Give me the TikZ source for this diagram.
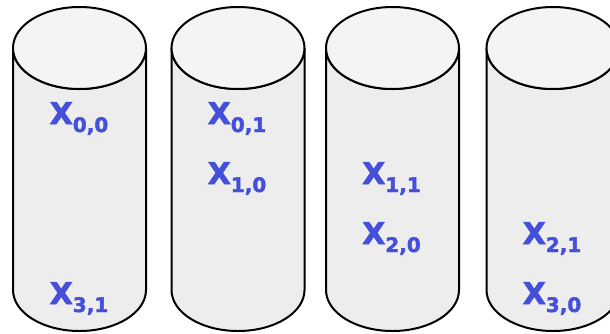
\documentclass[tikz,border=0pt]{standalone}
\usepackage{fontspec}
\setmainfont{DejaVu Sans}
\newfontfamily\labfont[BoldFeatures={FakeBold=2}]{DejaVu Sans}
\usepackage{tikz}
\definecolor{drumbody}{HTML}{EDEDED}
\definecolor{drumlid}{HTML}{F4F4F4}
\definecolor{ink}{RGB}{68,80,218}
\newcommand{\idx}[1]{\raisebox{-8pt}{\fontsize{20}{20}\selectfont #1}}

\begin{document}
\begin{tikzpicture}[
            x=1pt, y=-1pt,
            % y runs downwards, units as in the sketch
            drum/.style={draw=black, line width=2pt, fill=drumbody},
            lid/.style={draw=black, line width=2pt, fill=drumlid},
            entry/.style={anchor=base, inner sep=0pt, text=ink, font=\labfont\fontsize{30}{30}\selectfont\bfseries}
        ]
        \useasboundingbox (0,0) rectangle (610,333);
        \clip (0,0) rectangle (610,333);

        % Dischi
        \foreach \cx in {79.5, 238, 392.5, 553} {
            \draw [drum] (\cx-66.5,48) -- (\cx-66.5,290)
                arc[start angle=180, end angle=0, x radius=66.5, y radius=41]
                -- (\cx+66.5,48)
                arc[start angle=0, end angle=180, x radius=66.5, y radius=41] -- cycle;
            \draw [lid] (\cx,48) ellipse [x radius=66.5, y radius=41];
        }

        % Blocchi
        \node (x00) [entry] at (79,124) {X\idx{0,0}};
        \node (x31) [entry] at (79,304) {X\idx{3,1}};

        \node (x01) [entry] at (237,124) {X\idx{0,1}};
        \node (x10) [entry] at (237,184) {X\idx{1,0}};

        \node (x11) [entry] at (391.5,184) {X\idx{1,1}};
        \node (x20) [entry] at (391.5,244) {X\idx{2,0}};

        \node (x21) [entry] at (552,244) {X\idx{2,1}};
        \node (x30) [entry] at (552,304) {X\idx{3,0}};

    \end{tikzpicture}
\end{document}
